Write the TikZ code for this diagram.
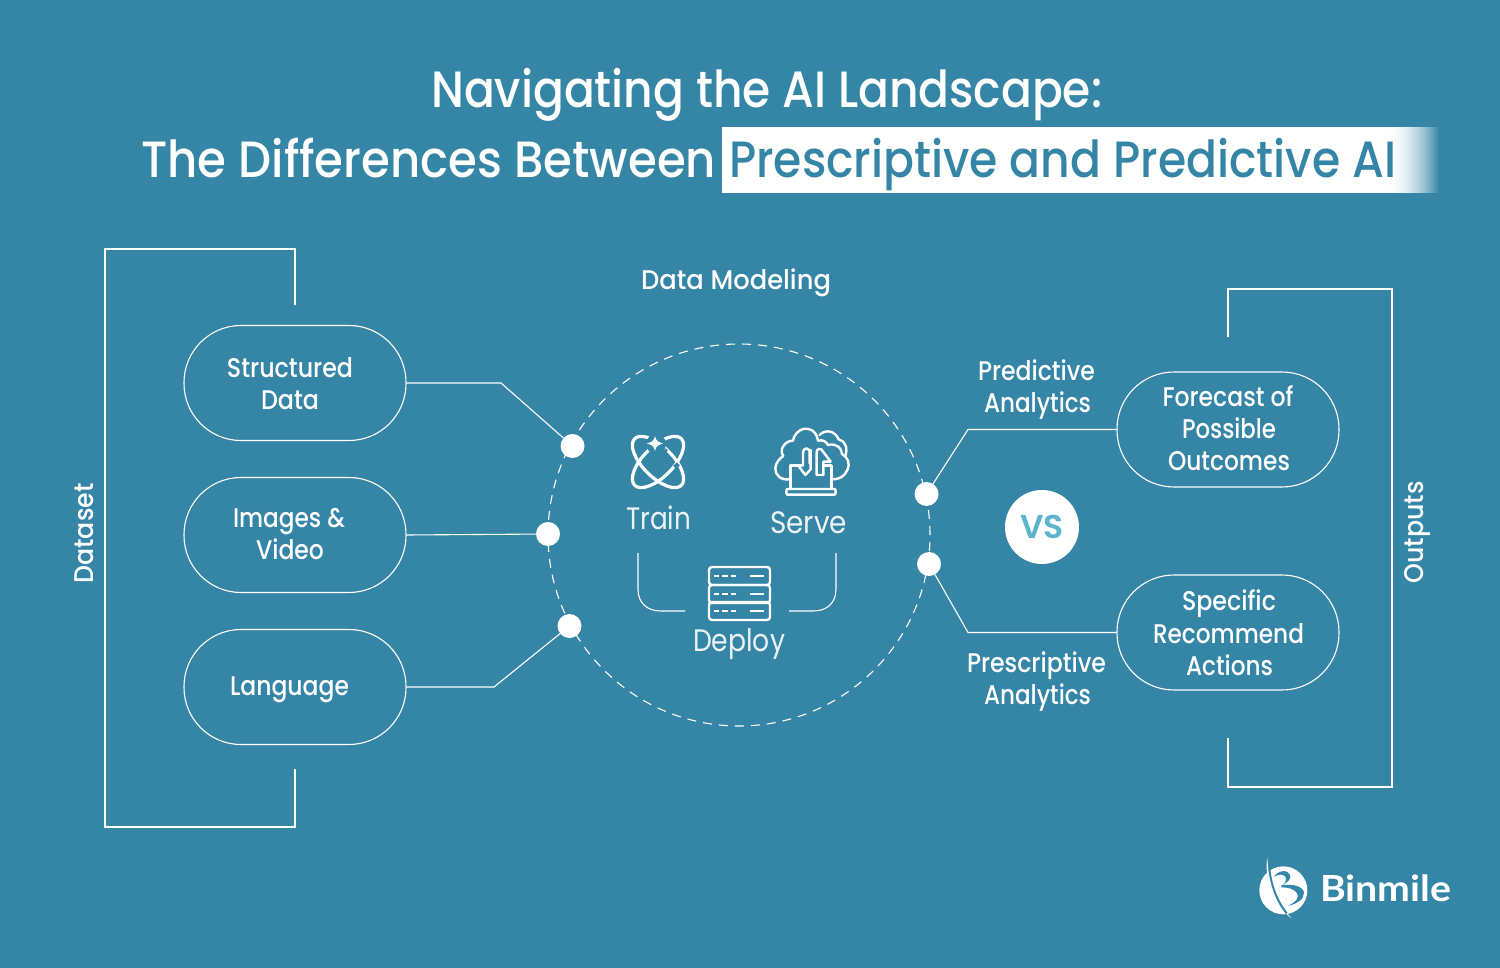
\documentclass[tikz,border=0pt]{standalone}
\usepackage{fontspec}
\usepackage{graphicx}
\setmainfont{Poppins}[UprightFont=* Medium,BoldFont=* SemiBold]
\newfontfamily\regf{Poppins}
\newfontfamily\lato{Lato}
\definecolor{bg}{HTML}{3585A6}
\definecolor{vsc}{HTML}{5DB4CF}
\newcommand{\fitw}[2]{\resizebox{#1pt}{\height}{#2}}
\tikzset{
 x=1pt,y=-1pt,
 lbl/.style={text=white,font=\fontsize{27}{30}\selectfont,inner sep=0pt,anchor=base},
 thin lbl/.style={text=white,font=\regf\fontsize{31}{34}\selectfont,inner sep=0pt,anchor=base,opacity=.9},
 ttl/.style={text=white,font=\fontsize{51}{54}\selectfont,inner sep=0pt,anchor=base west},
 pill/.style={draw=white,line width=1.1pt,rounded corners=57pt,minimum width=222pt,minimum height=115pt,inner sep=0pt},
 conn/.style={draw=white,line width=1.1pt},
 dot/.style={circle,fill=white,minimum size=24pt,inner sep=0pt},
 icon/.style={draw=white,line width=2.4pt,line cap=round,line join=round},
}
\begin{document}
\begin{tikzpicture}
\fill[bg] (0,0) rectangle (1500,968);
\useasboundingbox (0,0) rectangle (1500,968);
% title
\node[ttl] (t1) at (431,107.5) {\fitw{671}{Navigating the AI Landscape:}};
\node[ttl] (t2) at (141,177.5) {\fitw{575}{The Differences Between}};
\fill[white] (722,127) rectangle (1386,193);
\foreach \i in {0,...,54}{
 \pgfmathsetmacro{\pc}{100*(1-(\i/54)*(\i/54))}
 \fill[white!\pc!bg] (1385+\i,127) rectangle (1386.5+\i,193);
}
\node[ttl,text=bg] (t3) at (729,177.5) {\fitw{667}{Prescriptive and Predictive AI}};
% brackets
\coordinate (la) at (295,305); \coordinate (lb) at (295,769);
\coordinate (ra) at (1228,337); \coordinate (rb) at (1228,738);
\draw[conn] (la) -- (295,249) -- (105,249) -- (105,827) -- (295,827) -- (lb);
\draw[conn] (ra) -- (1228,289) -- (1392,289) -- (1392,787) -- (1228,787) -- (rb);
\node[lbl,rotate=90,anchor=base] (ds) at (93,533.5) {\fitw{100}{Dataset}};
\node[lbl,rotate=90,anchor=base] (op) at (1423,532.5) {\fitw{102}{Outputs}};
\node[lbl] (dm) at (736,290) {\fitw{190}{Data Modeling}};
% pills
\node[pill] (p1) at (295,383) {};
\node[pill] (p2) at (295,535) {};
\node[pill] (p3) at (295,687) {};
\node[pill] (p4) at (1228,429.5) {};
\node[pill] (p5) at (1228,632.5) {};
\node[lbl] (a1) at (290,377.5) {\fitw{126}{Structured}};
\node[lbl] (a2) at (290,409.5) {\fitw{58}{Data}};
\node[lbl] (a3) at (289,527.5) {\fitw{112}{Images \&}};
\node[lbl] (a4) at (290,559.5) {\fitw{68}{Video}};
\node[lbl] (a5) at (289.5,695) {\fitw{119}{Language}};
\node[lbl] (b1) at (1228,406.5) {\fitw{131}{Forecast of}};
\node[lbl] (b2) at (1229,438.5) {\fitw{94}{Possible}};
\node[lbl] (b3) at (1229,470.5) {\fitw{122}{Outcomes}};
\node[lbl] (b4) at (1229,610.5) {\fitw{94}{Specific}};
\node[lbl] (b5) at (1228.5,643) {\fitw{151}{Recommend}};
\node[lbl] (b6) at (1229.5,675.5) {\fitw{87}{Actions}};
\node[lbl] (c1) at (1036.5,381) {\fitw{117}{Predictive}};
\node[lbl] (c2) at (1037.5,413) {\fitw{107}{Analytics}};
\node[lbl] (c3) at (1036.5,672) {\fitw{139}{Prescriptive}};
\node[lbl] (c4) at (1037.5,704.5) {\fitw{107}{Analytics}};
% big circle
\node[circle,draw=white,line width=1.1pt,dash pattern=on 9pt off 7pt,minimum size=382pt,inner sep=0pt] (big) at (739,535) {};
% dots
\node[dot] (d1) at (572.5,446) {};
\node[dot] (d2) at (548,534) {};
\node[dot] (d3) at (569.5,626) {};
\node[dot] (d4) at (926.5,494) {};
\node[dot] (d5) at (929,564) {};
% connectors
\coordinate (k1) at (501,383);
\coordinate (k3) at (494,687);
\coordinate (k4) at (968,429.5);
\coordinate (k5) at (968,632.5);
\draw[conn] (p1.east) -- (k1) -- (d1);
\draw[conn] (p2.east) -- (d2);
\draw[conn] (p3.east) -- (k3) -- (d3);
\draw[conn] (p4.west) -- (k4) -- (d4);
\draw[conn] (p5.west) -- (k5) -- (d5);
% VS
\node[circle,fill=white,minimum size=74pt,inner sep=0pt,text=vsc,font=\fontsize{33}{33}\selectfont\bfseries] (vs) at (1042,527) {VS};
% inner labels
\node[thin lbl] (tr) at (658.5,529) {\fitw{65}{Train}};
\node[thin lbl] (se) at (808.5,533) {\fitw{77}{Serve}};
\node[thin lbl] (de) at (739,651) {\fitw{92}{Deploy}};
\coordinate (u1) at (638,553); \coordinate (u2) at (685,611);
\coordinate (v1) at (836,553); \coordinate (v2) at (789,611);
\draw[conn] (u1) -- (638,589) .. controls (638,603) and (647,611) .. (661,611) -- (u2);
\draw[conn] (v1) -- (836,589) .. controls (836,603) and (827,611) .. (813,611) -- (v2);
% train icon
\begin{scope}[shift={(658,462)}]
\draw[icon,line width=3.2pt,rotate=45] (0,0) ellipse[x radius=33,y radius=15];
\draw[icon,line width=3.2pt,rotate=-45] (0,0) ellipse[x radius=33,y radius=15];
\fill[bg] (-2,-18) circle (10);
\draw[bg,line width=5pt] (6,-12) -- (8,-10);
\draw[bg,line width=5pt] (17,2) -- (20,5);
\draw[bg,line width=5pt] (-1,-1) -- (3,3);
\fill[white] (-3,-26) .. controls (-2,-21) and (0,-20) .. (5,-18.5) .. controls (0,-17) and (-2,-16) .. (-3,-11) .. controls (-4,-16) and (-6,-17) .. (-11,-18.5) .. controls (-6,-20) and (-4,-21) .. (-3,-26) -- cycle;
\end{scope}
% cloud icon
\begin{scope}[shift={(768,420)},x=0.3333pt,y=-0.3333pt]
\draw[icon] (65,178) .. controls (40,182) and (20,165) .. (22,145) .. controls (23,128) and (35,115) .. (46,108) .. controls (32,90) and (50,62) .. (75,62) .. controls (80,35) and (105,22) .. (122,27) .. controls (138,30) and (148,45) .. (150,62) .. controls (165,58) and (175,65) .. (180,75) .. controls (205,68) and (222,85) .. (222,102) .. controls (240,112) and (247,130) .. (238,150) .. controls (230,170) and (212,178) .. (195,178);
\draw[icon] (155,45) .. controls (170,28) and (200,30) .. (212,58) .. controls (232,62) and (240,85) .. (232,108);
\draw[icon] (68,205) -- (68,137) -- (98,137);
\draw[icon] (168,137) -- (190,137) -- (190,205);
\draw[icon] (58,207) -- (200,207) .. controls (204,207) and (204,224) .. (200,224) -- (58,224) .. controls (54,224) and (54,207) .. (58,207) -- cycle;
\draw[icon] (125,130) -- (125,100) .. controls (125,80) and (105,80) .. (105,100) -- (105,136) -- (90,136) -- (112,165) -- (128,148) -- (128,90);
\draw[icon] (146,165) -- (146,100) .. controls (146,90) and (148,85) .. (160,88) -- (188,125) -- (166,125) -- (166,165) -- (146,165);
\end{scope}
% server icon
\foreach \yy in {567,585,602}{
 \draw[icon,rounded corners=3pt] (709,\yy) rectangle (770,\yy+18);
 \draw[icon,line width=2.8pt,line cap=butt,dash pattern=on 5.5pt off 3pt] (713.5,\yy+9) -- (736,\yy+9);
 \draw[icon,line width=2.8pt,line cap=butt] (750,\yy+9) -- (764,\yy+9);
}
% logo
\begin{scope}[shift={(1250,850)},x=0.3333pt,y=-0.3333pt]
\fill[white] (100,121) circle (72);
\fill[white] (52,22) .. controls (54,60) and (60,140) .. (125,205) .. controls (80,175) and (40,100) .. (52,22) -- cycle;
\draw[bg,line width=2pt] (58,55) .. controls (62,100) and (78,150) .. (110,190);
\fill[bg] (72,80) .. controls (85,60) and (115,58) .. (120,75) .. controls (125,88) and (110,100) .. (93,106) .. controls (130,100) and (160,110) .. (162,128) .. controls (163,148) and (140,162) .. (115,167) .. controls (140,155) and (150,140) .. (140,128) .. controls (130,116) and (115,112) .. (92,112) .. controls (105,100) and (112,90) .. (106,80) .. controls (100,72) and (85,72) .. (72,80) -- cycle;
\end{scope}
\node[text=white,inner sep=0pt,anchor=base west,font=\fontsize{36}{36}\selectfont\lato\bfseries] (bm) at (1320,901) {\fitw{131}{Binmile}};
\end{tikzpicture}
\end{document}
